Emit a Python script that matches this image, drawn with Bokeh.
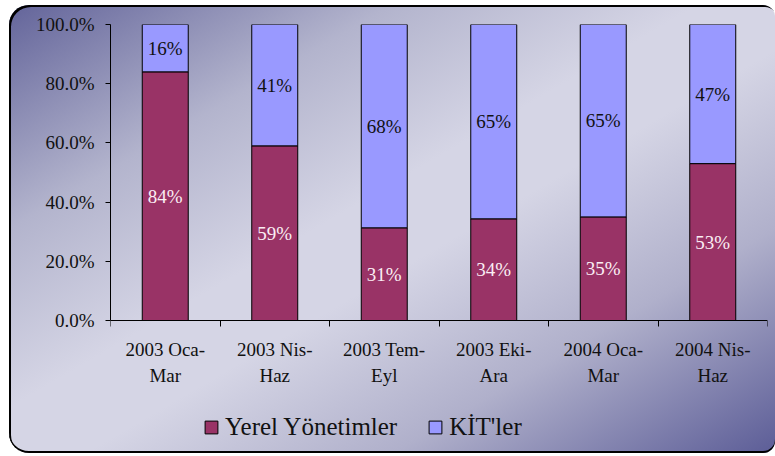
from bokeh.plotting import figure
from bokeh.models import (ColumnDataSource, Range1d, FixedTicker, NumeralTickFormatter,
                          Legend, LegendItem)
from bokeh.core.properties import value
from bokeh.embed import file_html
from bokeh.resources import INLINE

# ---- data ----
categories = ["2003 Oca-Mar", "2003 Nis-Haz", "2003 Tem-Eyl",
              "2003 Eki-Ara", "2004 Oca-Mar", "2004 Nis-Haz"]
yerel = [84, 59, 31, 34, 35, 53]      # Yerel Yönetimler (%)
kit = [16, 41, 68, 65, 65, 47]        # KİT'ler (%)
y_ticks = [0.0, 0.2, 0.4, 0.6, 0.8, 1.0]
series_names = ["Yerel Yönetimler", "KİT'ler"]

FONT = "Liberation Serif"
n = len(categories)
xs = [i + 0.5 for i in range(n)]
totals = [a + b for a, b in zip(yerel, kit)]
y_top = [a / t for a, t in zip(yerel, totals)]
k_top = [(a + b) / t for a, b, t in zip(yerel, kit, totals)]

src = ColumnDataSource(dict(
    x=xs, y0=[0] * n, y_top=y_top, k_top=k_top,
    y_mid=[v / 2 for v in y_top],
    k_mid=[(a + b) / 2 for a, b in zip(y_top, k_top)],
    y_lab=[f"{v}%" for v in yerel],
    k_lab=[f"{v}%" for v in kit],
))

# layout (pixels): plot frame spans the lower area too, so the legend can sit in it
W, H = 766, 448
TOP, LEFT, RIGHT = 19, 101, 8
PLOT_H = 296                      # pixel height of the 0..100% band
below = H - TOP - PLOT_H          # space under the 0% line, inside the frame

p = figure(width=W, height=H, x_range=Range1d(0, n),
           y_range=Range1d(-below / PLOT_H, 1),
           output_backend="svg", toolbar_location=None,
           min_border_left=LEFT, min_border_right=RIGHT, min_border_top=TOP,
           min_border_bottom=0)
p.background_fill_alpha = 0
p.border_fill_alpha = 0
p.outline_line_color = None
p.grid.visible = False
p.styles = {
    "margin-left": "9px",
    "margin-top": "5px",
    "background": "linear-gradient(to bottom right, #63649a 0%, #b3b4cd 25%, "
                  "#d5d5e5 45%, #d5d5e5 55%, #b0b0cb 75%, #5c5d97 100%)",
    "border-radius": "20px 12px 12px 20px",
    "box-shadow": "inset 2px 2px 0 0 #000, inset 0 -2px 0 0 #000",
}

r1 = p.vbar(x="x", bottom="y0", top="y_top", width=0.42, source=src,
            fill_color="#993366", line_color="black", line_width=1)
r2 = p.vbar(x="x", bottom="y_top", top="k_top", width=0.42, source=src,
            fill_color="#9999ff", line_color="black", line_width=1)

p.text(x="x", y="y_mid", text="y_lab", source=src, text_align="center",
       text_baseline="middle", text_color="#fbeef4", text_font=value(FONT),
       text_font_size="19px")
p.text(x="x", y="k_mid", text="k_lab", source=src, text_align="center",
       text_baseline="middle", text_color="#111111", text_font=value(FONT),
       text_font_size="19px")

# x axis pinned at 0%: labels at centres, tick marks at category boundaries
xa = p.xaxis[0]
xa.fixed_location = 0
xa.ticker = FixedTicker(ticks=xs, minor_ticks=list(range(n + 1)))
xa.major_label_overrides = {x: c.replace("-", "-\n", 1) for x, c in zip(xs, categories)}
xa.major_tick_out = 0
xa.major_tick_in = 0
xa.minor_tick_out = 6
xa.minor_tick_in = 0
xa.minor_tick_line_color = "black"
xa.axis_line_color = "black"
xa.major_label_text_font = FONT
xa.major_label_text_font_size = "19px"
xa.major_label_text_color = "#111111"
xa.major_label_text_line_height = 1.28
xa.major_label_standoff = 12

ya = p.yaxis[0]
ya.bounds = (0, 1)
ya.ticker = FixedTicker(ticks=y_ticks)
ya.formatter = NumeralTickFormatter(format="0.0%")
ya.major_tick_out = 5
ya.major_tick_in = 0
ya.minor_tick_line_color = None
ya.axis_line_color = "black"
ya.major_tick_line_color = "black"
ya.major_label_text_font = FONT
ya.major_label_text_font_size = "19px"
ya.major_label_text_color = "#111111"
ya.major_label_standoff = 11

legend = Legend(items=[LegendItem(label=series_names[0], renderers=[r1]),
                       LegendItem(label=series_names[1], renderers=[r2])],
                orientation="horizontal", location=(93, 12),
                glyph_width=16, glyph_height=16, label_standoff=6, spacing=30,
                label_text_font=FONT, label_text_font_size="25px",
                label_text_color="#111111",
                padding=0, margin=0, background_fill_alpha=0, border_line_alpha=0)
p.add_layout(legend, "center")

open("out.html", "w").write(file_html(p, INLINE))
